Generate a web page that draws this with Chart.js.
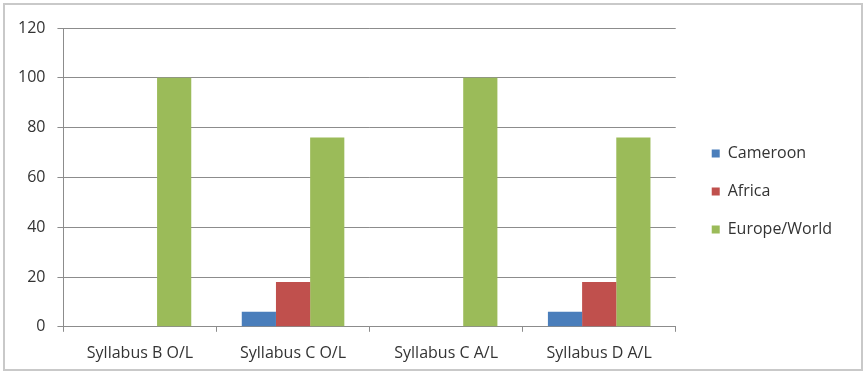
<!DOCTYPE html>
<html>
<head>
<meta charset="utf-8">
<script src="https://cdn.jsdelivr.net/npm/chart.js@4/dist/chart.umd.min.js"></script>
<style>
  html, body { margin: 0; padding: 0; background: #fff; }
  #frame {
    position: absolute; left: 3px; top: 3px;
    width: 856px; height: 364px;
    border: 2px solid #c9c9c9;
    background: #fff;
  }
  #wrap { position: absolute; left: 0; top: 0; width: 856px; height: 364px; }
</style>
</head>
<body>
<div id="frame"><div id="wrap"><canvas id="c"></canvas></div></div>
<script>
const categories = ['Syllabus B O/L', 'Syllabus C O/L', 'Syllabus C A/L', 'Syllabus D A/L'];
const cameroon = [0, 6, 0, 6];
const africa = [0, 18, 0, 18];
const europeWorld = [100, 76, 100, 76];
const yTicks = [0, 20, 40, 60, 80, 100, 120];

const FONT = '"Open Sans", Lato, sans-serif';
const TEXT = '#333333';
const LEGEND_GAP = 14;    // extra space between plot area and legend entries
const LEGEND_RAISE = 10;  // lift legend entries slightly above centre

// Widen the legend box and push its entries right, leaving a gap beside the plot.
const legendGap = {
  id: 'legendGap',
  afterInit(chart) {
    const lg = chart.legend;
    const fit = lg.fit;
    lg.fit = function () { fit.call(this); this.width += LEGEND_GAP; };
  },
  afterLayout(chart) {
    chart.legend.left += LEGEND_GAP;
    chart.legend.top -= LEGEND_RAISE;
    chart.legend.bottom -= LEGEND_RAISE;
  }
};

new Chart(document.getElementById('c'), {
  type: 'bar',
  data: {
    labels: categories,
    datasets: [
      { label: 'Cameroon', data: cameroon, backgroundColor: '#4a7ebb' },
      { label: 'Africa', data: africa, backgroundColor: '#c0504d' },
      { label: 'Europe/World', data: europeWorld, backgroundColor: '#9bbb59' }
    ]
  },
  plugins: [legendGap],
  options: {
    responsive: true,
    maintainAspectRatio: false,
    animation: false,
    datasets: { bar: { categoryPercentage: 0.67, barPercentage: 1.0 } },
    layout: { padding: { left: 1, top: 23, right: 19, bottom: -6 } },
    plugins: {
      tooltip: { enabled: false },
      legend: {
        position: 'right',
        labels: {
          boxWidth: 8, boxHeight: 8, padding: 22,
          color: TEXT,
          font: { family: FONT, size: 16 }
        }
      }
    },
    scales: {
      x: {
        grid: { display: true, drawOnChartArea: false, drawTicks: true, tickLength: 5, color: '#8c8c8c' },
        border: { display: true, color: '#8c8c8c', width: 1 },
        ticks: { color: TEXT, font: { family: FONT, size: 16 }, padding: 12, maxRotation: 0 }
      },
      y: {
        min: 0, max: 120,
        afterBuildTicks: (axis) => { axis.ticks = yTicks.map(v => ({ value: v })); },
        grid: { color: '#8c8c8c', lineWidth: 1, tickLength: 6 },
        border: { display: true, color: '#8c8c8c', width: 1 },
        ticks: { color: TEXT, font: { family: FONT, size: 16 }, padding: 12 }
      }
    }
  }
});
</script>
</body>
</html>
